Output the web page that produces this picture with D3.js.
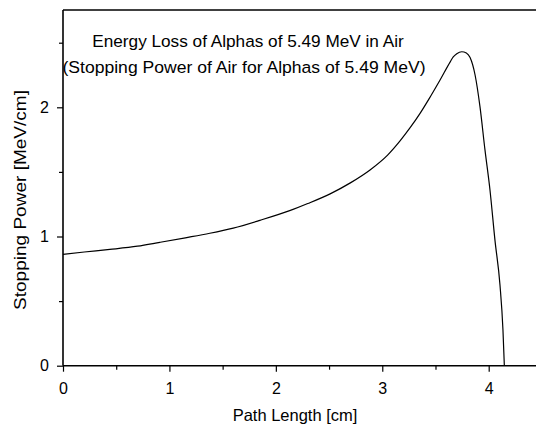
<!DOCTYPE html>
<html>
<head>
<meta charset="utf-8">
<script src="https://cdn.jsdelivr.net/npm/d3@7"></script>
<style>
  html, body { margin: 0; padding: 0; background: #fff; }
  svg { display: block; }
  text { font-family: "Liberation Sans", Arial, sans-serif; fill: #000; }
</style>
</head>
<body>
<svg id="chart" width="536" height="430"></svg>
<script>
// Data
const pathLength = [0, 0.2, 0.44, 0.7, 0.91, 1.15, 1.38, 1.6, 1.85, 2.13, 2.3, 2.51, 2.7, 2.885, 3.05, 3.167, 3.26, 3.355, 3.45, 3.543, 3.637, 3.667, 3.7, 3.747, 3.79, 3.825, 3.872, 3.918, 3.965, 4.012, 4.059, 4.106, 4.134, 4.147];
const stoppingPower = [0.862, 0.88, 0.90, 0.925, 0.955, 0.99, 1.025, 1.065, 1.125, 1.2, 1.255, 1.33, 1.415, 1.515, 1.63, 1.74, 1.84, 1.953, 2.08, 2.211, 2.35, 2.39, 2.415, 2.43, 2.42, 2.385, 2.25, 2.005, 1.67, 1.36, 0.97, 0.625, 0.277, 0];
const xMajorTicks = [0, 1, 2, 3, 4];
const xMinorTicks = [0.5, 1.5, 2.5, 3.5];
const yMajorTicks = [0, 1, 2];
const yMinorTicks = [0.5, 1.5, 2.5];
const titleLines = ["Energy Loss of Alphas of 5.49 MeV in Air", "(Stopping Power of Air for Alphas of 5.49 MeV)"];
const xTitle = "Path Length [cm]";
const yTitle = "Stopping Power [MeV/cm]";

const svg = d3.select("#chart");
const x0 = 63, y0 = 365.7, yTop = 10;
const x = d3.scaleLinear().domain([0, 4]).range([x0, 488.7]);
const y = d3.scaleLinear().domain([0, 2]).range([y0, 107.3]);

// minor ticks
svg.append("g").attr("transform", `translate(0,${y0})`)
  .call(d3.axisBottom(x).tickValues(xMinorTicks).tickSize(4).tickFormat(""))
  .call(g => g.select(".domain").remove())
  .selectAll("line").attr("stroke-width", 1.2);
svg.append("g").attr("transform", `translate(${x0},0)`)
  .call(d3.axisLeft(y).tickValues(yMinorTicks).tickSize(4).tickFormat(""))
  .call(g => g.select(".domain").remove())
  .selectAll("line").attr("stroke-width", 1.2);

// major axes
const xAxis = svg.append("g").attr("transform", `translate(0,${y0})`)
  .call(d3.axisBottom(x).tickValues(xMajorTicks).tickSize(6).tickPadding(11).tickFormat(d3.format("d")));
xAxis.select(".domain").remove();
xAxis.selectAll("line").attr("stroke-width", 1.2);
xAxis.selectAll("text").attr("font-size", 16).attr("font-family", "Liberation Sans, Arial, sans-serif");

const yAxis = svg.append("g").attr("transform", `translate(${x0},0)`)
  .call(d3.axisLeft(y).tickValues(yMajorTicks).tickSize(6).tickPadding(8).tickFormat(d3.format("d")));
yAxis.select(".domain").remove();
yAxis.selectAll("line").attr("stroke-width", 1.2);
yAxis.selectAll("text").attr("font-size", 16).attr("font-family", "Liberation Sans, Arial, sans-serif");

// frame lines (left, bottom, top)
svg.append("line").attr("x1", x0).attr("x2", 536).attr("y1", y0).attr("y2", y0).attr("stroke", "#000").attr("stroke-width", 1.6);
svg.append("line").attr("x1", x0).attr("x2", 536).attr("y1", yTop).attr("y2", yTop).attr("stroke", "#000").attr("stroke-width", 1.6);
svg.append("line").attr("x1", x0).attr("x2", x0).attr("y1", yTop).attr("y2", y0).attr("stroke", "#000").attr("stroke-width", 1.6);

// curve
const data = pathLength.map((d, i) => [d, stoppingPower[i]]);
svg.append("path").datum(data)
  .attr("fill", "none").attr("stroke", "#000").attr("stroke-width", 1.2)
  .attr("d", d3.line().x(d => x(d[0])).y(d => y(d[1])).curve(d3.curveMonotoneX));

// title
svg.append("text").attr("x", 248).attr("y", 47).attr("text-anchor", "middle").attr("font-size", 17.2).text(titleLines[0]);
svg.append("text").attr("x", 244).attr("y", 73).attr("text-anchor", "middle").attr("font-size", 17.2)
  .attr("textLength", 363).attr("lengthAdjust", "spacingAndGlyphs").text(titleLines[1]);

// axis titles
svg.append("text").attr("x", 295).attr("y", 421).attr("text-anchor", "middle").attr("font-size", 16.5).text(xTitle);
svg.append("text").attr("transform", "translate(26,200) rotate(-90)").attr("text-anchor", "middle")
  .attr("font-size", 16.5).attr("textLength", 220).attr("lengthAdjust", "spacingAndGlyphs").text(yTitle);
</script>
</body>
</html>
